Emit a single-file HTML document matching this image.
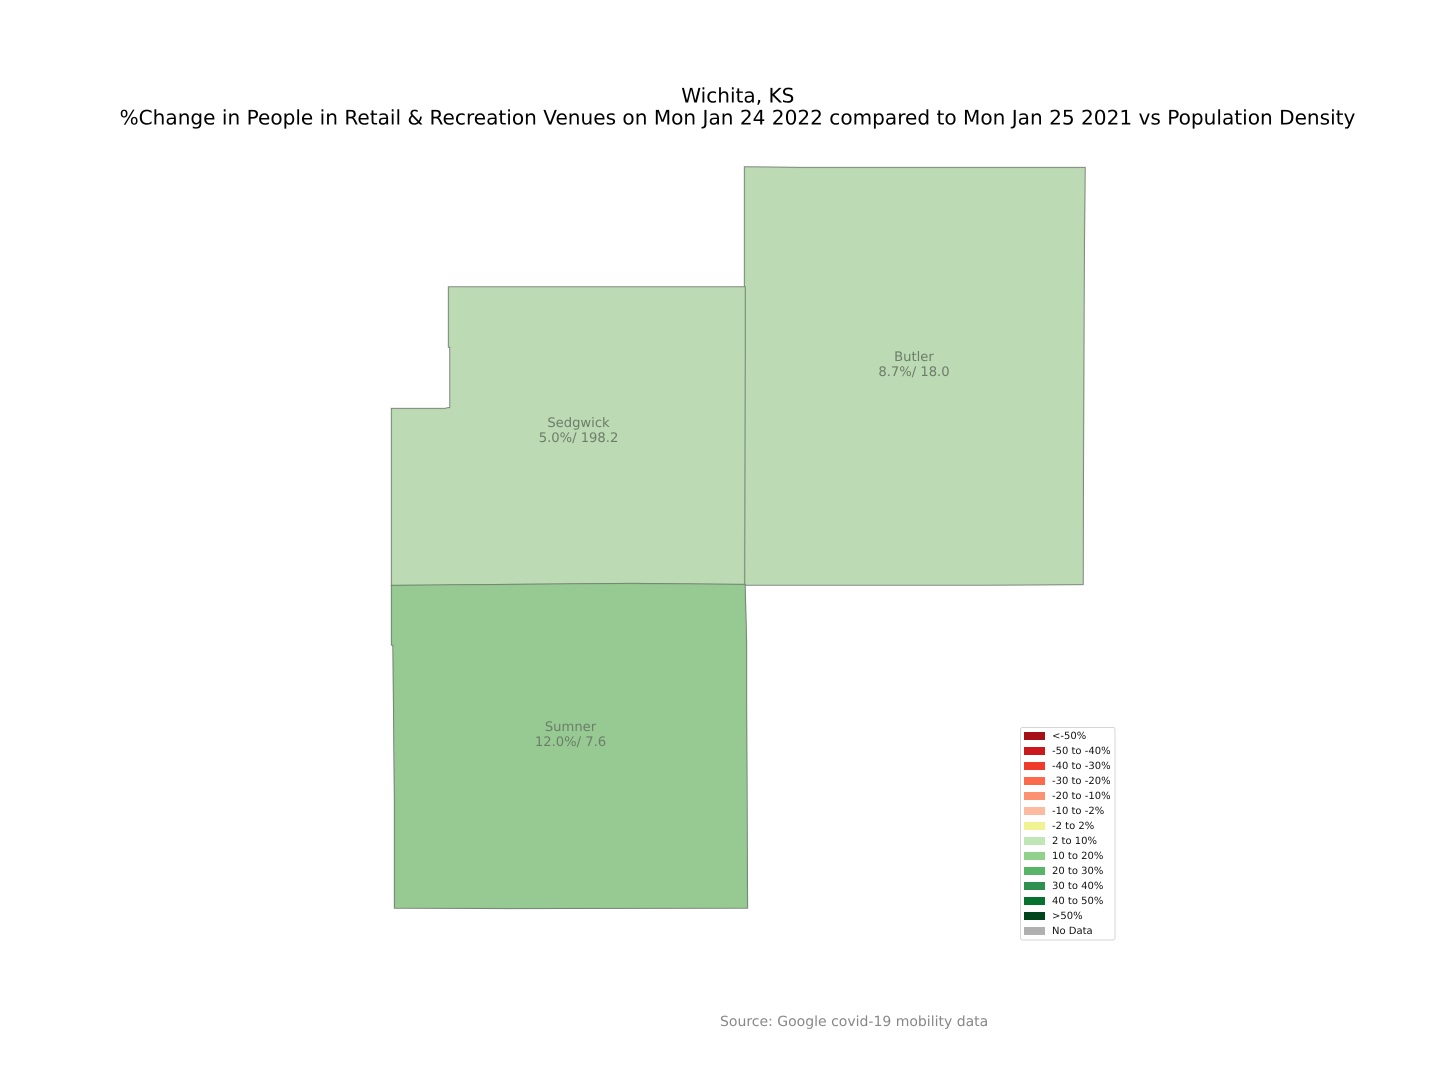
<!DOCTYPE html>
<html>
<head>
<meta charset="utf-8">
<title>Wichita, KS mobility map</title>
<style>
html,body{margin:0;padding:0;background:#fff;width:1440px;height:1080px;overflow:hidden}
svg{display:block;font-family:"DejaVu Sans","Liberation Sans",sans-serif;text-rendering:geometricPrecision}
</style>
</head>
<body>
<svg id="chart" width="1440" height="1080" viewBox="0 0 1440 1080" xmlns="http://www.w3.org/2000/svg">
  <text x="737.8" y="102.6" text-anchor="middle" font-size="20.08" fill="#000">Wichita, KS</text>
  <text x="737.5" y="124.6" text-anchor="middle" font-size="20.08" fill="#000">%Change in People in Retail &amp; Recreation Venues on Mon Jan 24 2022 compared to Mon Jan 25 2021 vs Population Density</text>
  <g id="map"></g>
  <g id="labels"></g>
  <g id="legend"></g>
  <text x="720" y="1026" font-size="14" fill="#888888">Source: Google covid-19 mobility data</text>
</svg>
<script>
// Data
const counties = ['Butler', 'Sedgwick', 'Sumner'];
const changes = [8.7, 5.0, 12.0];
const densities = [18.0, 198.2, 7.6];

// County outlines in geographic coordinates [lon, lat]
const butlerOutline = [[-97.1521,38.1752],[-97.0495,38.1743],[-96.5227,38.1743],[-96.5245,37.9691],[-96.5264,37.4758],[-96.7075,37.4750],[-97.1521,37.4750]];
const sedgwickOutline = [[-97.6992,37.9742],[-97.1512,37.9742],[-97.1512,37.8737],[-97.1521,37.4750],[-97.3637,37.4775],[-97.8046,37.4742],[-97.8046,37.6676],[-97.8046,37.7706],[-97.7057,37.7706],[-97.6964,37.7723],[-97.6964,37.8737],[-97.6992,37.8737]];
const sumnerOutline = [[-97.8046,37.4742],[-97.3637,37.4775],[-97.1512,37.4758],[-97.1484,37.3795],[-97.1484,37.2824],[-97.1465,36.9340],[-97.5855,36.9331],[-97.7991,36.9340],[-97.7991,37.1149],[-97.8018,37.3745],[-97.8046,37.3745]];
const outlines = [butlerOutline, sedgwickOutline, sumnerOutline];
const labelAnchors = [[-96.8388,37.8452],[-97.4589,37.7347],[-97.4737,37.2254]];

// Legend
const binLabels = ['<-50%','-50 to -40%','-40 to -30%','-30 to -20%','-20 to -10%','-10 to -2%','-2 to 2%','2 to 10%','10 to 20%','20 to 30%','30 to 40%','40 to 50%','>50%','No Data'];
const binColors = ['#a50f15','#cb181d','#ef3b2c','#fb6a4a','#fc9272','#fcbba1','#f1f393','#c0e6b5','#90d18c','#58b568','#2e9150','#067230','#00441b','#b0b0b0'];
const binUpper = [-50,-40,-30,-20,-10,-2,2,10,20,30,40,50,Infinity];

// Axis functions
function xScale(lon){ return 744 + (lon + 97.153) * 541; }
function yScale(lat){ return 585 - (lat - 37.475) * 597; }
function binIndex(v){
  if (v === null || v === undefined || isNaN(v)) return binColors.length - 1;
  for (let i = 0; i < binUpper.length; i++) { if (v < binUpper[i]) return i; }
  return binUpper.length - 1;
}
function muted(hex){
  const mix = 0.2, g = 172;
  const n = parseInt(hex.slice(1), 16);
  const c = [n >> 16 & 255, n >> 8 & 255, n & 255].map(function(ch){ return Math.round(ch * (1 - mix) + g * mix); });
  return 'rgb(' + c.join(',') + ')';
}

const NS = 'http://www.w3.org/2000/svg';
const mapG = document.getElementById('map');
const labelG = document.getElementById('labels');
const legendG = document.getElementById('legend');

counties.forEach(function(name, i){
  const pts = outlines[i].map(function(p){ return xScale(p[0]).toFixed(1) + ',' + yScale(p[1]).toFixed(1); }).join(' ');
  const fillColor = muted(binColors[binIndex(changes[i])]);

  const edge = document.createElementNS(NS, 'polygon');
  
  
  edge.setAttribute('points', pts);
  edge.setAttribute('fill', fillColor);
  edge.setAttribute('stroke', '#667066');
  edge.setAttribute('stroke-width', '1.3');
  mapG.appendChild(edge);

  const poly = document.createElementNS(NS, 'polygon');
  
  
  poly.setAttribute('points', pts);
  poly.setAttribute('fill', fillColor);
  poly.setAttribute('fill-opacity', '0.72');
  mapG.appendChild(poly);

  const cx = xScale(labelAnchors[i][0]);
  const cy = yScale(labelAnchors[i][1]);
  const t1 = document.createElementNS(NS, 'text');
  
  
  t1.setAttribute('x', cx);
  t1.setAttribute('y', cy - 3);
  t1.setAttribute('text-anchor', 'middle');
  t1.setAttribute('font-size', '13.15');
  t1.setAttribute('fill', '#6d7d6a');
  t1.textContent = name;
  labelG.appendChild(t1);
  const t2 = document.createElementNS(NS, 'text');
  
  
  t2.setAttribute('x', cx);
  t2.setAttribute('y', cy + 12);
  t2.setAttribute('text-anchor', 'middle');
  t2.setAttribute('font-size', '13.15');
  t2.setAttribute('fill', '#6d7d6a');
  t2.textContent = changes[i].toFixed(1) + '%/ ' + densities[i].toFixed(1);
  labelG.appendChild(t2);
});

const frame = document.createElementNS(NS, 'rect');


frame.setAttribute('x', 1020.5);
frame.setAttribute('y', 727.5);
frame.setAttribute('width', 94.5);
frame.setAttribute('height', 212.5);
frame.setAttribute('rx', 2);
frame.setAttribute('fill', '#fff');
frame.setAttribute('stroke', '#d6d6d6');
frame.setAttribute('stroke-width', '1');
legendG.appendChild(frame);

binLabels.forEach(function(label, i){
  const cy = 736 + i * 15;
  const sw = document.createElementNS(NS, 'rect');
  
  
  sw.setAttribute('x', 1024);
  sw.setAttribute('y', cy - 4);
  sw.setAttribute('width', 21);
  sw.setAttribute('height', 8);
  sw.setAttribute('fill', binColors[i]);
  legendG.appendChild(sw);
  const tx = document.createElementNS(NS, 'text');
  
  
  tx.setAttribute('x', 1052);
  tx.setAttribute('y', cy + 3);
  tx.setAttribute('font-size', '10');
  tx.setAttribute('fill', '#111');
  tx.textContent = label;
  legendG.appendChild(tx);
});
</script>
</body>
</html>
